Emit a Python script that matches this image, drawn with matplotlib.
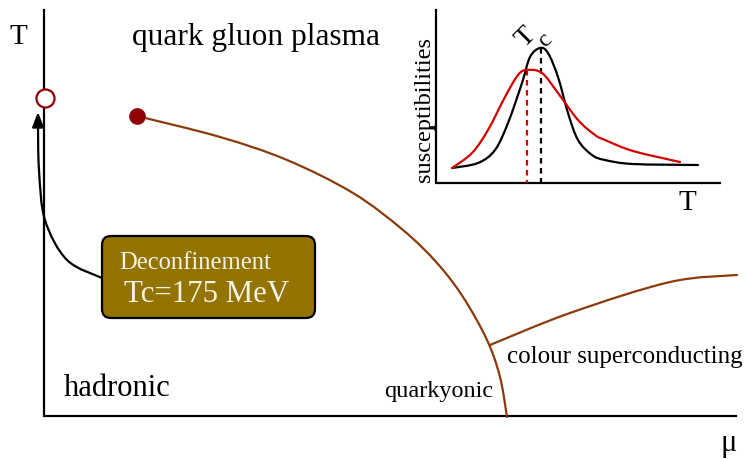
import matplotlib
matplotlib.use("Agg")
import matplotlib.pyplot as plt
from matplotlib.patches import FancyBboxPatch, PathPatch
from matplotlib.path import Path

plt.rcParams['font.family'] = ['Liberation Serif', 'DejaVu Serif']

# ---- data (schematic, in picture units: x = mu, y = T, y grows downward) ----
main_axis_x = [44, 44, 736]
main_axis_y = [10, 416, 416]

boundary_x = [137, 220, 287, 353, 403, 437, 463, 487, 500, 507]
boundary_y = [116, 137, 160, 193, 230, 263, 297, 340, 377, 417]

csc_x = [490, 570, 670, 737]
csc_y = [345, 313, 282, 275]

crit_point = (137, 116)
tc_point = (45, 98)

arrow_x = [102, 67, 45, 39, 38]
arrow_y = [278, 260, 220, 170, 118]

inset_axis_x = [436, 436, 720]
inset_axis_y = [10, 183, 183]

black_x = [452, 478, 495, 508, 522, 530, 540, 548, 558, 568, 578, 592, 605, 633, 698]
black_y = [168, 163, 150, 123, 83, 57, 48, 53, 77, 113, 140, 155, 160, 164, 165]

red_x = [452, 472, 488, 505, 518, 527, 542, 558, 578, 595, 605, 633, 680]
red_y = [168, 153, 130, 97, 75, 70, 73, 93, 120, 135, 140, 151, 162]

red_peak = (527, 70)
black_peak = (541, 48)

BROWN = '#8a3b0c'
DARKRED = '#900000'
OLIVE = '#937400'
RED = '#d40000'


def smooth_path(xs, ys):
    """Catmull-Rom through the points, drawn as cubic Bezier segments."""
    pts = list(zip(xs, ys))
    n = len(pts)
    verts = [pts[0]]
    codes = [Path.MOVETO]
    for i in range(n - 1):
        p0 = pts[i - 1] if i > 0 else pts[i]
        p1 = pts[i]
        p2 = pts[i + 1]
        p3 = pts[i + 2] if i + 2 < n else pts[i + 1]
        c1 = (p1[0] + (p2[0] - p0[0]) / 6.0, p1[1] + (p2[1] - p0[1]) / 6.0)
        c2 = (p2[0] - (p3[0] - p1[0]) / 6.0, p2[1] - (p3[1] - p1[1]) / 6.0)
        verts += [c1, c2, p2]
        codes += [Path.CURVE4] * 3
    return Path(verts, codes)


def draw_curve(ax, xs, ys, color, lw=1.6, z=3):
    ax.add_patch(PathPatch(smooth_path(xs, ys), fc='none', ec=color, lw=lw,
                           capstyle='round', joinstyle='round', zorder=z))


fig = plt.figure(figsize=(7.46, 4.59), dpi=100)
ax = fig.add_axes([0, 0, 1, 1])
ax.set_xlim(0, 746)
ax.set_ylim(459, 0)
ax.axis('off')

# main axes
ax.plot(main_axis_x, main_axis_y, color='black', lw=1.6, solid_joinstyle='miter')

# phase boundaries
draw_curve(ax, boundary_x, boundary_y, BROWN)
draw_curve(ax, csc_x, csc_y, BROWN)

# points
ax.plot(*crit_point, 'o', color=DARKRED, ms=11, zorder=5)
ax.plot(*tc_point, 'o', mfc='white', mec=DARKRED, mew=1.6, ms=13, zorder=5)

# curved arrow
draw_curve(ax, arrow_x[:-1] + [arrow_x[-1]], arrow_y[:-1] + [arrow_y[-1] + 6], 'black')
ax.annotate('', xy=(arrow_x[-1], arrow_y[-1] - 6), xytext=(arrow_x[-1], arrow_y[-1] + 8),
            arrowprops=dict(arrowstyle='-|>,head_length=0.9,head_width=0.35', color='black', lw=1.6,
                            shrinkA=0, shrinkB=0))

# box
box = FancyBboxPatch((102, 236), 213, 82, boxstyle='round,pad=0,rounding_size=9',
                     fc=OLIVE, ec='black', lw=1.6, zorder=4)
ax.add_patch(box)
ax.text(195, 263, 'Deconfinement', color='#f4f2e4', fontsize=17.7, ha='center', va='center', zorder=6)
ax.text(207, 295, 'Tc=175 MeV', color='#f4f2e4', fontsize=22.2, ha='center', va='center', zorder=6)

# labels
ax.text(18, 37, 'T', fontsize=21, ha='center', va='center')
ax.text(729, 444, 'μ', fontsize=22, ha='center', va='center')
ax.text(256, 37, 'quark gluon plasma', fontsize=22.6, ha='center', va='center')
ax.text(117, 389, 'hadronic', fontsize=22, ha='center', va='center')
ax.text(439, 391, 'quarkyonic', fontsize=17.5, ha='center', va='center')
ax.text(625, 357, 'colour superconducting', fontsize=18, ha='center', va='center')

# inset
ax.plot(inset_axis_x, inset_axis_y, color='black', lw=1.6, solid_joinstyle='miter')
ax.plot([430, 436], [127, 127], color='black', lw=1.2)
draw_curve(ax, black_x, black_y, 'black')
draw_curve(ax, red_x, red_y, RED)
ax.plot([red_peak[0], red_peak[0]], [red_peak[1], 183], color=RED, lw=1.6, ls=(0, (2.5, 2)))
ax.plot([black_peak[0], black_peak[0]], [black_peak[1], 183], color='black', lw=1.6, ls=(0, (2.5, 2)))
ax.text(425, 110, 'susceptibilities', fontsize=17.5, rotation=90, ha='center', va='center')
ax.text(687, 203, 'T', fontsize=21, ha='center', va='center')
ax.text(526, 37, 'T', fontsize=20, rotation=45, ha='center', va='center')
ax.text(545, 40, 'c', fontsize=17, rotation=45, ha='center', va='center')

fig.savefig('out.png', dpi=100)
